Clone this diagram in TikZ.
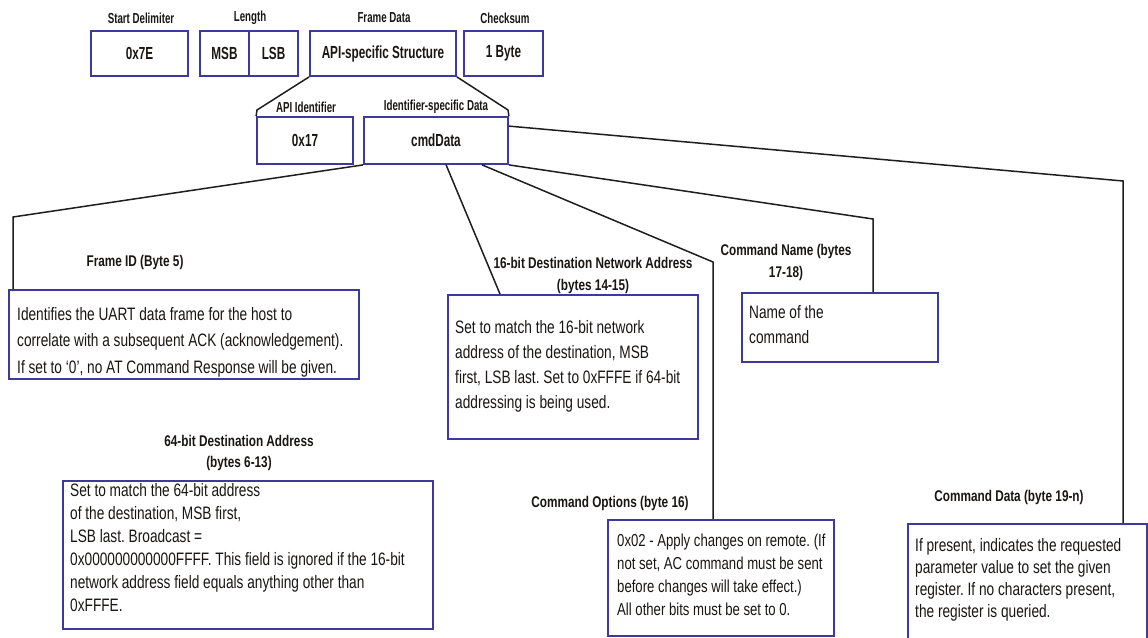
\documentclass[tikz,border=0pt]{standalone}
\usepackage{fontspec}
\setmainfont{Liberation Sans}[FakeStretch=0.76]
\newfontfamily\headfont{Liberation Sans}[FakeStretch=0.67]
\usetikzlibrary{calc}
\definecolor{boxblue}{RGB}{62,58,155}
\definecolor{ink}{RGB}{25,22,20}
\definecolor{wire}{RGB}{30,30,30}
\frenchspacing
\begin{document}
\begin{tikzpicture}[x=1pt,y=-1pt,
  frame/.style={draw=boxblue,line width=1.8pt,inner sep=0pt,text=ink,
    font=\headfont\fontsize{17.5}{20}\selectfont\bfseries},
  fieldbox/.style={draw=boxblue,line width=1.8pt,inner sep=0pt,anchor=north west},
  toplbl/.style={text=ink,inner sep=0pt,font=\headfont\fontsize{14.5}{16}\selectfont\bfseries},
  fieldlbl/.style={text=ink,inner sep=0pt,align=center},
  body/.style={text=ink,inner sep=0pt,anchor=north west,align=left},
  wirestyle/.style={draw=wire,line width=1.5pt,line join=miter}]
\useasboundingbox[fill=white] (0,0) rectangle (1148,637);

% frame header boxes
\node[frame,minimum width=97pt,minimum height=45pt] (sd) at (139.5,53.5) {0x7E};
\node[frame,minimum width=49pt,minimum height=45pt] (msb) at (224.5,53.5) {MSB};
\node[frame,minimum width=49pt,minimum height=45pt] (lsb) at (273.5,53.5) {LSB};
\node[frame,minimum width=146pt,minimum height=45pt] (fd) at (383,53.5) {API-specific Structure};
\node[frame,minimum width=79pt,minimum height=45pt] (cs) at (503.5,53.5) {1 Byte};

\node[toplbl] (sdl) at (141,18) {Start Delimiter};
\node[toplbl] (lenl) at (250,18) {Length};
\node[toplbl] (fdl) at (384,18) {Frame Data};
\node[toplbl] (csl) at (505,18) {Checksum};

% API frame structure
\node[frame,minimum width=96pt,minimum height=47pt] (apiid) at (305,140.5) {0x17};
\node[frame,minimum width=144pt,minimum height=47pt] (isd) at (436,140.5) {cmdData};
\node[toplbl] (apil) at (306,107) {API Identifier};
\node[toplbl] (isdl) at (436,107) {Identifier-specific Data};

\coordinate (bl) at (257,110);
\coordinate (br) at (508,110);
\draw[wirestyle] (fd.south west) -- (bl) -- (apiid.north west);
\draw[wirestyle] (fd.south east) -- (br) -- (isd.north east);

% field description boxes
\node[fieldbox,minimum width=350pt,minimum height=89pt] (fid) at (8,289) {};
\node[fieldbox,minimum width=370pt,minimum height=148pt] (dda) at (62,480) {};
\node[fieldbox,minimum width=250pt,minimum height=144pt] (dna) at (447,294) {};
\node[fieldbox,minimum width=196pt,minimum height=69pt] (cnm) at (741,292) {};
\node[fieldbox,minimum width=226pt,minimum height=116pt] (cop) at (607,519) {};
\node[fieldbox,minimum width=239pt,minimum height=125pt] (cdt) at (907,523) {};

% field labels
\node[fieldlbl,font=\fontsize{15.5}{21}\selectfont\bfseries] (fidl) at (135,262) {Frame ID (Byte 5)};
\node[fieldlbl,font=\fontsize{15.5}{21}\selectfont\bfseries] (ddal) at (239,452.5) {64-bit Destination Address\\(bytes 6-13)};
\node[fieldlbl,font=\fontsize{15.5}{22}\selectfont\bfseries] (dnal) at (593,275) {16-bit Destination Network Address\\(bytes 14-15)};
\node[fieldlbl,font=\fontsize{15.5}{22}\selectfont\bfseries] (cnml) at (786,262) {Command Name (bytes\\17-18)};
\node[fieldlbl,font=\fontsize{15.5}{21}\selectfont\bfseries] (copl) at (610,503) {Command Options (byte 16)};
\node[fieldlbl,font=\fontsize{15.5}{21}\selectfont\bfseries] (cdtl) at (1009,497) {Command Data (byte 19-n)};

% field descriptions
\node[body,font=\fontsize{18}{26.5}\selectfont] (fidt) at (17,306) {\rule{0pt}{14pt}Identifies the UART data frame for the host to\\correlate with a subsequent ACK (acknowledgement).\\If set to ‘0’, no AT Command Response will be given.};
\node[body,font=\fontsize{18}{23}\selectfont] (ddat) at (70,482) {\rule{0pt}{14pt}Set to match the 64-bit address\\of the destination, MSB first,\\LSB last. Broadcast =\\0x000000000000FFFF. This field is ignored if the 16-bit\\network address field equals anything other than\\0xFFFE.};
\node[body,font=\fontsize{18}{25}\selectfont] (dnat) at (455,319) {\rule{0pt}{14pt}Set to match the 16-bit network\\address of the destination, MSB\\first, LSB last. Set to 0xFFFE if 64-bit\\addressing is being used.};
\node[body,font=\fontsize{18}{25}\selectfont] (cnmt) at (749,304) {\rule{0pt}{14pt}Name of the\\command};
\node[body,font=\fontsize{17.3}{23}\selectfont] (copt) at (617,532) {\rule{0pt}{14pt}0x02 - Apply changes on remote. (If\\not set, AC command must be sent\\before changes will take effect.)\\All other bits must be set to 0.};
\node[body,font=\fontsize{18}{22}\selectfont] (cdtt) at (915,537) {\rule{0pt}{14pt}If present, indicates the requested\\parameter value to set the given\\register. If no characters present,\\the register is queried.};

% connectors from cmdData to the field boxes
\coordinate (k1) at (13,217);
\coordinate (k4) at (713,262);
\coordinate (k5) at (873,219);
\coordinate (k6) at (1123,181);
\draw[wirestyle] (isd.south west) -- (k1) -- (k1 |- fid.north);
\draw[wirestyle] ($(isd.south west)+(18,0)$) -- ($(isd.south west)+(18,0)$ |- dda.north);
\draw[wirestyle] ($(isd.south west)+(83,0)$) -- ($(dna.north west)+(53,0)$);
\draw[wirestyle] ($(isd.south west)+(119,0)$) -- (k4) -- (k4 |- cop.north);
\draw[wirestyle] (isd.south east) -- (k5) -- (k5 |- cnm.north);
\draw[wirestyle] ($(isd.north east)+(0,10)$) -- (k6) -- (k6 |- cdt.north);
\end{tikzpicture}
\end{document}
